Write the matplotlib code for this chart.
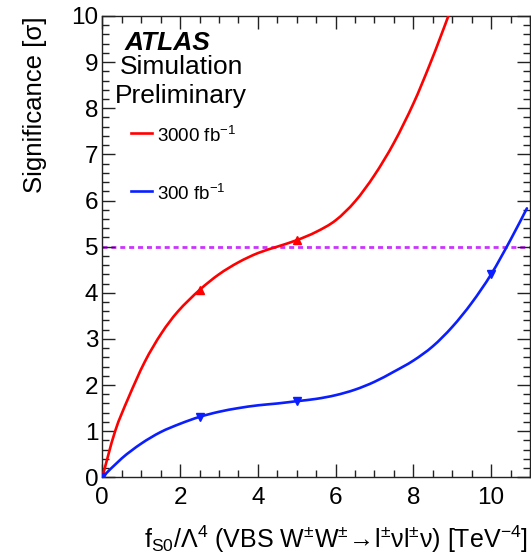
import matplotlib
matplotlib.use("Agg")
import matplotlib.pyplot as plt
from matplotlib.ticker import MultipleLocator
from matplotlib.path import Path
from matplotlib.patches import PathPatch

plt.rcParams['font.family'] = ['Liberation Sans', 'DejaVu Sans']
plt.rcParams['mathtext.fontset'] = 'custom'
plt.rcParams['mathtext.rm'] = 'Liberation Sans'
plt.rcParams['mathtext.it'] = 'Liberation Sans:italic'
plt.rcParams['mathtext.bf'] = 'Liberation Sans:bold'
plt.rcParams['mathtext.sf'] = 'Liberation Sans'

# ---- data ----
# marker points
red_pts_x = [0.0, 2.5, 5.0]
red_pts_y = [0.0, 4.06, 5.14]
blue_pts_x = [0.0, 2.5, 5.0, 10.0]
blue_pts_y = [0.0, 1.31, 1.65, 4.40]

# smooth curves
red_curve_x = [0.0, 0.33, 0.67, 1.09, 1.52, 1.95, 2.5, 3.0, 3.5, 4.0, 4.5,
               5.0, 5.5, 6.0, 6.5, 7.0, 7.5, 8.0, 8.4, 8.7, 8.9]
red_curve_y = [0.0, 1.0, 1.72, 2.5, 3.12, 3.6, 4.06, 4.4, 4.66, 4.86, 5.0,
               5.14, 5.32, 5.57, 5.98, 6.55, 7.25, 8.1, 8.9, 9.55, 10.0]
blue_curve_x = [0.0, 0.5, 1.0, 1.5, 2.0, 2.5, 3.0, 3.5, 4.0, 4.5, 5.0, 5.5,
                6.0, 6.5, 7.0, 7.5, 8.0, 8.5, 9.0, 9.5, 10.0, 10.5, 10.92]
blue_curve_y = [0.0, 0.41, 0.73, 0.98, 1.16, 1.31, 1.42, 1.50, 1.56, 1.60, 1.65, 1.70,
                1.78, 1.90, 2.07, 2.29, 2.53, 2.84, 3.26, 3.78, 4.40, 5.15, 5.83]

discovery_level = 5.0
series_labels = ["3000 fb$^{\\mathsf{-1}}$", "300 fb$^{\\mathsf{-1}}$"]

W, H = 531, 559
fig = plt.figure(figsize=(W / 100, H / 100), dpi=100)
ax_left, ax_right, ax_top, ax_bot = 102.3, 530.0, 16.0, 477.3
ax = fig.add_axes([ax_left / W, 1 - ax_bot / H, (ax_right - ax_left) / W, (ax_bot - ax_top) / H])

red = '#FF0000'
blue = '#0A1EFF'
lw = 1.9


def smooth_path(xs, ys):
    """Catmull-Rom curve through the given points, as cubic Bezier segments."""
    pts = list(zip(xs, ys))
    n = len(pts)
    verts = [pts[0]]
    codes = [Path.MOVETO]
    for i in range(n - 1):
        p0 = pts[i - 1] if i > 0 else pts[i]
        p1 = pts[i]
        p2 = pts[i + 1]
        p3 = pts[i + 2] if i + 2 < n else pts[i + 1]
        c1 = (p1[0] + (p2[0] - p0[0]) / 6, p1[1] + (p2[1] - p0[1]) / 6)
        c2 = (p2[0] - (p3[0] - p1[0]) / 6, p2[1] - (p3[1] - p1[1]) / 6)
        verts += [c1, c2, p2]
        codes += [Path.CURVE4] * 3
    return Path(verts, codes)


ax.axhline(discovery_level, color='#CC33FF', lw=2.0, linestyle=(0, (1.8, 1.4)), zorder=1)
for xs, ys, col in [(red_curve_x, red_curve_y, red), (blue_curve_x, blue_curve_y, blue)]:
    ax.add_patch(PathPatch(smooth_path(xs, ys), facecolor='none', edgecolor=col,
                           lw=lw, capstyle='round', joinstyle='round', zorder=3))
ax.plot(red_pts_x, red_pts_y, ls='none', marker='^', color=red, ms=6, zorder=4)
ax.plot(blue_pts_x, blue_pts_y, ls='none', marker='v', color=blue, ms=6, zorder=4)

ax.set_xlim(0, 11)
ax.set_ylim(0, 10)
ax.xaxis.set_major_locator(MultipleLocator(2))
ax.xaxis.set_minor_locator(MultipleLocator(0.5))
ax.yaxis.set_major_locator(MultipleLocator(1))
ax.yaxis.set_minor_locator(MultipleLocator(0.2))
ax.tick_params(which='both', direction='in', top=True, right=True, color='#222222')
ax.tick_params(which='major', length=9.4, width=1.0)
ax.tick_params(which='minor', length=4.8, width=1.0)
ax.tick_params(axis='x', which='major', labelsize=17.5, pad=7)
ax.tick_params(axis='y', which='major', labelsize=17.5, pad=3)
for s in ax.spines.values():
    s.set_linewidth(1.0)
    s.set_color('#222222')

ax.set_ylabel("Significance [σ]", fontsize=18.5, loc='top')
ax.yaxis.set_label_coords(-0.13, 1.0)
ax.set_xlabel(r"f$_{\mathrm{S0}}$/Λ$^{4}$ (VBS W$^{\pm}$W$^{\pm}$$\!\rightarrow\!$l$^{\pm}$νl$^{\pm}$ν) [TeV$^{\mathsf{-4}}$]",
              fontsize=18, loc='right')
ax.xaxis.set_label_coords(0.995, -0.10)


def ft(x, y, s, **kw):
    fig.text(x / W, 1 - y / H, s, va='baseline', ha='left', **kw)


ft(125, 50, "ATLAS", fontsize=19, fontweight='bold', fontstyle='italic')
ft(120, 74, "Simulation", fontsize=19)
ft(115, 103, "Preliminary", fontsize=19)

# legend
for (ly, tb, col, lab) in [(133.3, 141.7, red, series_labels[0]), (191.0, 200.0, blue, series_labels[1])]:
    fig.add_artist(plt.Line2D([130.7 / W, 151.7 / W], [1 - ly / H, 1 - ly / H], color=col, lw=lw))
    ft(156.7, tb, lab, fontsize=13.5)

fig.savefig("out.png", dpi=100)
